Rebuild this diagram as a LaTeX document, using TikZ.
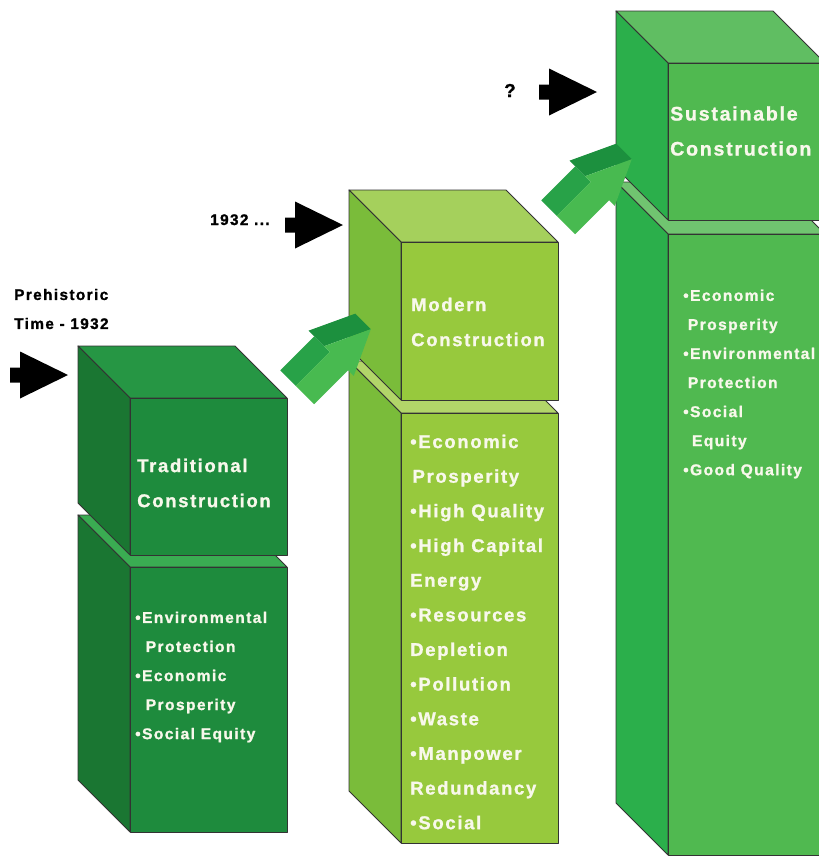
\documentclass[tikz,border=0pt]{standalone}
\usepackage{fontspec}
\newfontfamily\stackfont[LetterSpace=9, BoldFeatures={FakeBold=1.2}]{Liberation Sans}
\usepackage{tikz}

\definecolor{tradFront}{RGB}{30,139,61}
\definecolor{tradSide}{RGB}{26,118,50}
\definecolor{tradTop}{RGB}{38,150,68}
\definecolor{tradStrip}{RGB}{58,172,82}
\definecolor{modFront}{RGB}{151,201,61}
\definecolor{modSide}{RGB}{122,188,58}
\definecolor{modTop}{RGB}{165,208,92}
\definecolor{modStrip}{RGB}{178,214,105}
\definecolor{susFront}{RGB}{80,185,80}
\definecolor{susSide}{RGB}{43,175,75}
\definecolor{susTop}{RGB}{96,190,98}
\definecolor{susStrip}{RGB}{112,196,112}
\definecolor{arrowDark}{RGB}{28,144,62}
\definecolor{arrowMid}{RGB}{40,162,72}
\definecolor{arrowLight}{RGB}{72,186,80}
\definecolor{textWhite}{RGB}{248,248,235}

% box: front left x, front top y, front bottom y, front, side, top
\newcommand{\drawblock}[6]{%
  \filldraw[faceEdge, fill=#6] (#1,#2) -- ++(-52,-52) -- ++(157,0) -- ++(52,52) -- cycle;
  \filldraw[faceEdge, fill=#5] (#1,#2) -- ++(-52,-52) -- (#1-52,#3-52) -- (#1,#3) -- cycle;
  \filldraw[faceEdge, fill=#4] (#1,#2) rectangle (#1+157,#3);
}
% green 3d arrow, tail centre
\newcommand{\growarrow}[2]{%
  \begin{scope}[shift={(#1,#2)}, rotate=45]
    \fill[arrowMid] (0,-13) -- (48,-13) -- (48,-35) -- (0,-35) -- cycle;
    \fill[arrowDark] (48,-21) -- (93,0) -- (93,-22) -- (48,-43) -- cycle;
    \fill[arrowLight] (0,-13) -- (48,-13) -- (48,-21) -- (93,0) -- (48,21) -- (48,13) -- (0,13) -- cycle;
  \end{scope}}

\begin{document}
\begin{tikzpicture}[
    x=0.03cm, y=-0.03cm,
    faceEdge/.style={draw=black!80, line width=0.8pt, line join=round},
    timeText/.style={inner sep=0pt, align=left, text=black,
      font=\stackfont\bfseries\fontsize{13.1}{24.75}\selectfont},
    blockTitle/.style={inner sep=0pt, align=left, text=textWhite,
      font=\stackfont\bfseries\fontsize{15.8}{29.9}\selectfont},
    bigList/.style={inner sep=0pt, align=left, text=textWhite,
      font=\stackfont\bfseries\fontsize{15.8}{29.57}\selectfont},
    smallList/.style={inner sep=0pt, align=left, text=textWhite,
      font=\stackfont\bfseries\fontsize{13.3}{24.8}\selectfont},
  ]
    \useasboundingbox (0,0) rectangle (819,856);
    \clip (0,0) rectangle (819,856);
    \fill[white] (0,0) rectangle (819,856);

    % Stacks
    \drawblock{130}{567}{832}{tradFront}{tradSide}{tradStrip}
    \drawblock{130}{398}{555}{tradFront}{tradSide}{tradTop}
    \drawblock{401}{413}{843}{modFront}{modSide}{modStrip}
    \drawblock{401}{242}{400}{modFront}{modSide}{modTop}
    \drawblock{668}{234}{855}{susFront}{susSide}{susStrip}
    \drawblock{668}{63}{220}{susFront}{susSide}{susTop}

    % Green arrows
    \growarrow{305}{395}
    \growarrow{566}{225}

    % Black arrows
    \foreach \tx/\ty in {68/375, 343/225, 597/92} {
      \fill[black] (\tx-58,\ty-7.5) -- (\tx-48,\ty-7.5) -- (\tx-48,\ty-23.5)
        -- (\tx,\ty) -- (\tx-48,\ty+23.5) -- (\tx-48,\ty+7.5) -- (\tx-58,\ty+7.5) -- cycle;
    }

    % Time labels
    \node[timeText, anchor=west] (prehistoric) at (14,309) {Prehistoric\\Time - 1932};
    \node[timeText, anchor=base west] (modernTime) at (210,225) {1932 ...};
    \node[timeText, anchor=base west, font=\stackfont\bfseries\fontsize{16}{20}\selectfont]
      (futureTime) at (504,97) {?};

    % Block texts
    \node[blockTitle, anchor=west] (tradTitle) at (137,483) {Traditional\\Construction};
    \node[smallList, anchor=west] (tradList) at (135,677)
      {•Environmental\\\hspace*{9pt}Protection\\•Economic\\\hspace*{9pt}Prosperity\\•Social Equity};
    \node[blockTitle, anchor=west] (modTitle) at (411,322) {Modern\\Construction};
    \node[bigList, anchor=west] (modList) at (410,632)
      {•Economic\\\hspace*{2pt}Prosperity\\•High Quality\\•High Capital\\Energy\\•Resources\\Depletion\\•Pollution\\•Waste\\•Manpower\\Redundancy\\•Social};
    \node[blockTitle, anchor=west, font=\stackfont\bfseries\fontsize{16.7}{29.9}\selectfont]
      (susTitle) at (670,131) {Sustainable\\Construction};
    \node[smallList, anchor=west] (susList) at (683,384)
      {•Economic\\\hspace*{4pt}Prosperity\\•Environmental\\\hspace*{4pt}Protection\\•Social\\\hspace*{7.5pt}Equity\\•Good Quality};
  \end{tikzpicture}
\end{document}
